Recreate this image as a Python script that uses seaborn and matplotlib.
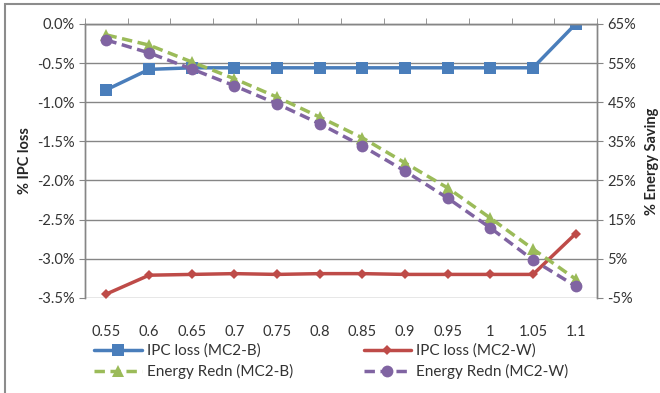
import numpy as np
import pandas as pd
import seaborn as sns
import matplotlib.pyplot as plt
from matplotlib.patches import Rectangle

# data
freq = ["0.55", "0.6", "0.65", "0.7", "0.75", "0.8", "0.85", "0.9", "0.95", "1", "1.05", "1.1"]
ipc_b = [-0.84, -0.58, -0.56, -0.56, -0.56, -0.56, -0.56, -0.56, -0.56, -0.56, -0.56, 0.0]
ipc_w = [-3.45, -3.21, -3.20, -3.19, -3.20, -3.19, -3.19, -3.20, -3.20, -3.20, -3.20, -2.68]
energy_b = [62.2, 59.6, 55.3, 51.0, 46.3, 41.2, 35.9, 29.5, 23.1, 15.4, 7.5, -0.2]
energy_w = [60.9, 57.6, 53.5, 49.2, 44.6, 39.5, 33.8, 27.4, 20.5, 12.9, 4.7, -2.0]

sns.set_style("white")
plt.rcParams['font.family'] = ['Lato', 'DejaVu Sans']

blue, red, green, purple = "#4A7EBB", "#BE4B48", "#9BBB59", "#8064A2"
grey = "#868686"
txt = "#333333"
fs = 10.5

df = pd.DataFrame({"freq": freq, "ipc_b": ipc_b, "ipc_w": ipc_w,
                   "energy_b": energy_b, "energy_w": energy_w})

fig = plt.figure(figsize=(6.6, 3.93), dpi=100)
ax = fig.add_axes([0.129, 0.242, 0.7755, 0.697])
ax2 = ax.twinx()

sns.lineplot(data=df, x="freq", y="ipc_b", ax=ax, color=blue, lw=2.5,
             marker="s", markersize=8, markeredgewidth=0, label="IPC loss (MC2-B)", legend=False)
sns.lineplot(data=df, x="freq", y="ipc_w", ax=ax, color=red, lw=2.5,
             marker="D", markersize=5.5, markeredgewidth=0, label="IPC loss (MC2-W)", legend=False)
sns.lineplot(data=df, x="freq", y="energy_b", ax=ax2, color=green, lw=2.5, dashes=(3, 1.6),
             marker="^", markersize=8, markeredgewidth=0, label="Energy Redn (MC2-B)", legend=False)
sns.lineplot(data=df, x="freq", y="energy_w", ax=ax2, color=purple, lw=2.5, dashes=(3, 1.6),
             marker="o", markersize=8.5, markeredgewidth=0, label="Energy Redn (MC2-W)", legend=False)

ax.set_xlim(-0.5, len(freq) - 0.5)
ax.set_ylim(-3.5, 0)
ax2.set_ylim(-5, 65)
ax.set_yticks(np.arange(-3.5, 0.01, 0.5))
ax.set_yticklabels([f"{v:.1f}%" for v in np.arange(-3.5, 0.01, 0.5)])
ax2.set_yticks(np.arange(-5, 66, 10))
ax2.set_yticklabels([f"{v}%" for v in range(-5, 66, 10)])

ax.yaxis.grid(True, color=grey, lw=1)
ax.set_axisbelow(True)
for a in (ax, ax2):
    for s in a.spines.values():
        s.set_color(grey)
        s.set_linewidth(1)
ax.spines["bottom"].set_visible(False)
ax2.spines["bottom"].set_visible(False)

# category boundary ticks on the top axis line
ax.set_xticks(np.arange(-0.5, len(freq), 1), minor=True)
ax.tick_params(axis="x", which="major", bottom=False, top=False, pad=16, labelsize=fs, colors=txt)
ax.tick_params(axis="x", which="minor", bottom=False, top=True, length=4, color=grey, direction="out")
ax.tick_params(axis="y", left=True, length=4, color=grey, direction="out", labelsize=fs, labelcolor=txt)
ax2.tick_params(axis="y", right=True, length=4, color=grey, direction="out", labelsize=fs, labelcolor=txt)

ax.set_xlabel("")
ax.set_ylabel("% IPC loss", fontsize=fs, fontweight="bold", labelpad=4)
ax2.set_ylabel("% Energy Saving", fontsize=fs, fontweight="bold", rotation=90, labelpad=6)

h1, l1 = ax.get_legend_handles_labels()
h2, l2 = ax2.get_legend_handles_labels()
handles = [h1[0], h2[0], h1[1], h2[1]]
labels = [l1[0], l2[0], l1[1], l2[1]]
fig.legend(handles, labels, ncol=2, loc="lower left", bbox_to_anchor=(0.122, 0.0),
           frameon=False, fontsize=11, handlelength=3.1, columnspacing=4.6,
           labelspacing=0.4, handletextpad=0.35, labelcolor=txt)

fig.add_artist(Rectangle((0.008, -0.05), 1.05, 1.04, transform=fig.transFigure,
                         fill=False, edgecolor="#8c8c8c", lw=1.5))

fig.savefig("out.png", dpi=100)
